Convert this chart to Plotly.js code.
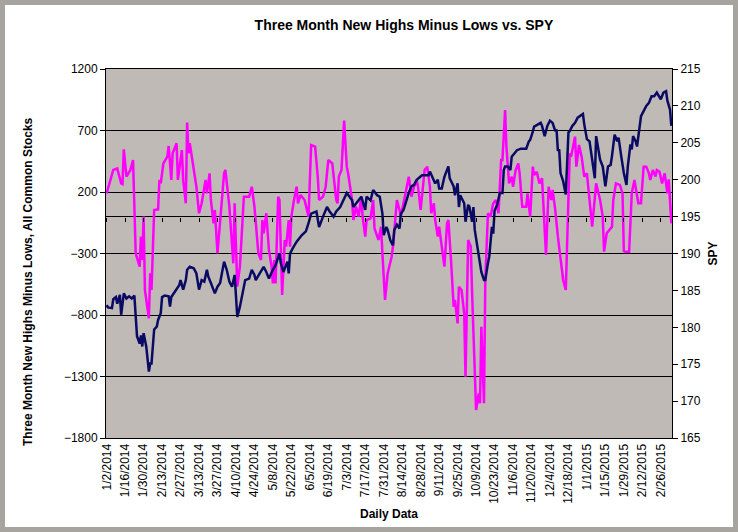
<!DOCTYPE html>
<html>
<head>
<meta charset="utf-8">
<script src="https://cdn.plot.ly/plotly-3.0.1.min.js"></script>
<style>
  body { margin: 0; background: #fff; }
  #frame { width: 728px; height: 522px; border: 5px solid #a7a39f; background: #fff; }
</style>
</head>
<body>
<div id="frame"><div id="chart"></div></div>
<script>
// Three month new highs minus lows (left axis)
let hlDates = [
  '2014-01-02','2014-01-07','2014-01-10','2014-01-13','2014-01-14','2014-01-15','2014-01-17','2014-01-20','2014-01-22','2014-01-24',
  '2014-01-27','2014-01-28','2014-01-29','2014-01-30','2014-01-31','2014-02-03','2014-02-04','2014-02-05','2014-02-07','2014-02-10',
  '2014-02-11','2014-02-12','2014-02-14','2014-02-17','2014-02-18','2014-02-20','2014-02-21','2014-02-24','2014-02-25','2014-02-26',
  '2014-02-28','2014-03-01','2014-03-03','2014-03-04','2014-03-05','2014-03-06','2014-03-08','2014-03-11','2014-03-13','2014-03-15',
  '2014-03-18','2014-03-19','2014-03-21','2014-03-22','2014-03-24','2014-03-25','2014-03-27','2014-03-30','2014-04-01','2014-04-02',
  '2014-04-05','2014-04-08','2014-04-09','2014-04-11','2014-04-13','2014-04-16','2014-04-20','2014-04-22','2014-04-24','2014-04-27',
  '2014-04-29','2014-04-30','2014-05-01','2014-05-03','2014-05-05','2014-05-07','2014-05-08','2014-05-09','2014-05-10','2014-05-12',
  '2014-05-13','2014-05-15','2014-05-17','2014-05-18','2014-05-20','2014-05-21','2014-05-22','2014-05-24','2014-05-26','2014-05-27',
  '2014-05-29','2014-06-01','2014-06-04','2014-06-06','2014-06-09','2014-06-11','2014-06-12','2014-06-15','2014-06-17','2014-06-19',
  '2014-06-22','2014-06-25','2014-06-26','2014-06-27','2014-06-29','2014-07-01','2014-07-03','2014-07-04','2014-07-07','2014-07-08',
  '2014-07-10','2014-07-12','2014-07-14','2014-07-15','2014-07-17','2014-07-18','2014-07-21','2014-07-23','2014-07-24','2014-07-27',
  '2014-07-29','2014-07-30','2014-08-01','2014-08-03','2014-08-06','2014-08-07','2014-08-09','2014-08-10','2014-08-12','2014-08-13',
  '2014-08-15','2014-08-17','2014-08-19','2014-08-21','2014-08-23','2014-08-25','2014-08-26','2014-08-28','2014-08-30','2014-08-31',
  '2014-09-02','2014-09-04','2014-09-05','2014-09-07','2014-09-08','2014-09-10','2014-09-11','2014-09-13','2014-09-15','2014-09-17',
  '2014-09-18','2014-09-20','2014-09-22','2014-09-23','2014-09-25','2014-09-26','2014-09-28','2014-09-30','2014-10-01','2014-10-03',
  '2014-10-05','2014-10-06','2014-10-08','2014-10-09','2014-10-11','2014-10-12','2014-10-13','2014-10-15','2014-10-16','2014-10-18',
  '2014-10-20','2014-10-22','2014-10-24','2014-10-26','2014-10-28','2014-10-29','2014-10-31','2014-11-01','2014-11-03','2014-11-05',
  '2014-11-06','2014-11-08','2014-11-10','2014-11-11','2014-11-13','2014-11-16','2014-11-17','2014-11-19','2014-11-21','2014-11-22',
  '2014-11-24','2014-11-26','2014-11-28','2014-11-29','2014-12-01','2014-12-03','2014-12-05','2014-12-06','2014-12-08','2014-12-10',
  '2014-12-13','2014-12-14','2014-12-16','2014-12-19','2014-12-20','2014-12-23','2014-12-24','2014-12-26','2014-12-28','2014-12-30',
  '2015-01-01','2015-01-03','2015-01-05','2015-01-08','2015-01-11','2015-01-13','2015-01-14','2015-01-16','2015-01-20','2015-01-21',
  '2015-01-23','2015-01-26','2015-01-28','2015-01-29','2015-01-30','2015-02-02','2015-02-04','2015-02-06','2015-02-07','2015-02-09',
  '2015-02-11','2015-02-13','2015-02-15','2015-02-17','2015-02-18','2015-02-20','2015-02-22','2015-02-23','2015-02-25','2015-02-27',
  '2015-03-01','2015-03-03','2015-03-04','2015-03-06'
];
let hlValues = [
  189, 379, 392, 270, 265, 547, 325, 379, 460, -299,
  -407, -163, -353, 0, -597, -827, -461, -597, 54, 59,
  298, 270, 433, 487, 574, 298, 514, 596, 298, 379,
  541, 298, 108, 764, 514, 596, 460, 243, 27, 108,
  298, 189, 352, 135, -55, 54, -299, 135, 352, 379,
  81, -380, 108, -570, -407, 162, 162, 243, 81, -299,
  -353, -28, -136, 27, -272, -407, -543, -353, -543, 162,
  135, -637, -190, -244, -28, -244, 0, 135, 243, 108,
  176, 135, 0, 582, 569, 325, 135, 162, 243, 460,
  433, 135, 108, 325, 379, 780, 406, 352, 135, -28,
  81, 0, 162, 0, -163, -28, -14, 135, -95, -190,
  -82, -299, -678, -461, -326, -244, 27, 135, 54, 0,
  108, 216, 325, 162, 243, 298, 243, 54, 298, 379,
  406, 243, 27, 108, -28, -163, -82, -244, -407, -55,
  -28, -353, -732, -678, -868, -570, -597, -786, -1301, -190,
  -244, -624, -1193, -1572, -1437, -1518, -895, -1518, -515, 27,
  0, 108, 135, 27, 460, 460, 867, 569, 270, 325,
  243, 379, 433, 352, 81, 81, 189, 0, 406, 338,
  365, 270, 311, 108, -312, 243, 135, 216, 54, -163,
  -461, -515, -597, 514, 487, 650, 406, 582, 487, 325,
  352, 135, -82, 270, 135, 0, -285, -136, -82, 135,
  270, 257, 189, -280, -285, -285, 189, 298, 243, 108,
  108, 406, 406, 352, 298, 379, 325, 379, 365, 270,
  352, 189, 302, -55
];

// SPY close (right axis)
let spyDates = [
  '2014-01-02','2014-01-03','2014-01-06','2014-01-07','2014-01-09','2014-01-10','2014-01-12','2014-01-13','2014-01-15','2014-01-17',
  '2014-01-19','2014-01-21','2014-01-23','2014-01-25','2014-01-27','2014-01-28','2014-01-29','2014-01-30','2014-02-01','2014-02-02',
  '2014-02-03','2014-02-04','2014-02-05','2014-02-07','2014-02-09','2014-02-10','2014-02-12','2014-02-13','2014-02-15','2014-02-18',
  '2014-02-19','2014-02-20','2014-02-22','2014-02-24','2014-02-26','2014-02-27','2014-03-01','2014-03-03','2014-03-04','2014-03-06',
  '2014-03-09','2014-03-11','2014-03-13','2014-03-15','2014-03-17','2014-03-19','2014-03-20','2014-03-22','2014-03-25','2014-03-27',
  '2014-03-29','2014-04-01','2014-04-03','2014-04-05','2014-04-07','2014-04-09','2014-04-11','2014-04-13','2014-04-17','2014-04-20',
  '2014-04-22','2014-04-24','2014-04-25','2014-04-28','2014-05-01','2014-05-03','2014-05-05','2014-05-08','2014-05-10','2014-05-13',
  '2014-05-14','2014-05-16','2014-05-19','2014-05-20','2014-05-21','2014-05-23','2014-05-26','2014-05-30','2014-06-02','2014-06-04',
  '2014-06-06','2014-06-10','2014-06-12','2014-06-15','2014-06-18','2014-06-20','2014-06-23','2014-06-25','2014-06-28','2014-07-03',
  '2014-07-07','2014-07-08','2014-07-12','2014-07-14','2014-07-17','2014-07-18','2014-07-21','2014-07-23','2014-07-26','2014-07-28',
  '2014-07-30','2014-07-31','2014-08-02','2014-08-03','2014-08-05','2014-08-07','2014-08-08','2014-08-10','2014-08-12','2014-08-13',
  '2014-08-15','2014-08-17','2014-08-19','2014-08-21','2014-08-23','2014-08-25','2014-08-29','2014-08-31','2014-09-03','2014-09-04',
  '2014-09-06','2014-09-08','2014-09-10','2014-09-11','2014-09-13','2014-09-15','2014-09-18','2014-09-19','2014-09-22','2014-09-23',
  '2014-09-25','2014-09-26','2014-09-27','2014-09-28','2014-09-30','2014-10-01','2014-10-03','2014-10-04','2014-10-06','2014-10-07',
  '2014-10-08','2014-10-10','2014-10-11','2014-10-13','2014-10-15','2014-10-16','2014-10-18','2014-10-19','2014-10-21','2014-10-22',
  '2014-10-23','2014-10-25','2014-10-27','2014-10-29','2014-10-30','2014-10-31','2014-11-02','2014-11-04','2014-11-05','2014-11-07',
  '2014-11-09','2014-11-12','2014-11-16','2014-11-18','2014-11-19','2014-11-21','2014-11-22','2014-11-24','2014-11-27','2014-11-28',
  '2014-11-30','2014-12-02','2014-12-04','2014-12-06','2014-12-08','2014-12-09','2014-12-10','2014-12-11','2014-12-12','2014-12-14',
  '2014-12-16','2014-12-18','2014-12-19','2014-12-21','2014-12-23','2014-12-25','2014-12-27','2014-12-29','2014-12-30','2015-01-01',
  '2015-01-03','2015-01-05','2015-01-06','2015-01-07','2015-01-08','2015-01-10','2015-01-11','2015-01-13','2015-01-15','2015-01-17',
  '2015-01-19','2015-01-20','2015-01-22','2015-01-24','2015-01-25','2015-01-27','2015-01-28','2015-01-29','2015-01-31','2015-02-01',
  '2015-02-03','2015-02-04','2015-02-05','2015-02-07','2015-02-08','2015-02-10','2015-02-11','2015-02-13','2015-02-15','2015-02-17',
  '2015-02-19','2015-02-21','2015-02-23','2015-02-24','2015-02-26','2015-02-28','2015-03-02','2015-03-03','2015-03-05','2015-03-06'
];
let spyValues = [
  183.0, 182.7, 182.6, 183.8, 184.1, 183.2, 184.4, 181.7, 184.6, 183.9,
  184.2, 183.9, 184.3, 178.8, 177.8, 178.9, 177.4, 179.2, 177.4, 176.0,
  174.0, 175.1, 175.1, 179.7, 180.1, 181.0, 181.9, 184.1, 184.3, 184.2,
  182.8, 184.1, 184.6, 185.1, 185.7, 186.4, 185.1, 186.4, 187.8, 188.2,
  188.0, 187.3, 185.1, 186.4, 186.2, 187.8, 186.9, 186.0, 184.6, 185.5,
  186.0, 188.9, 187.8, 186.2, 185.5, 187.1, 181.4, 182.8, 186.4, 186.6,
  187.8, 187.1, 186.4, 187.3, 188.2, 187.5, 186.6, 187.8, 188.4, 190.0,
  188.7, 187.5, 188.9, 187.3, 190.0, 190.7, 191.6, 192.5, 193.0, 194.1,
  195.4, 195.7, 193.6, 195.0, 196.3, 195.7, 195.0, 195.7, 196.3, 198.2,
  197.2, 196.3, 197.2, 197.7, 195.9, 197.7, 197.2, 198.6, 197.9, 197.7,
  195.4, 192.5, 193.6, 193.2, 191.8, 191.1, 193.2, 193.9, 193.4, 195.4,
  195.9, 197.2, 198.2, 199.1, 199.3, 200.0, 200.6, 200.6, 200.6, 201.1,
  200.4, 199.5, 200.0, 198.8, 198.8, 200.4, 201.8, 200.2, 199.1, 197.9,
  199.5, 196.3, 197.9, 197.5, 196.8, 194.3, 196.6, 196.3, 194.3, 196.3,
  193.2, 190.9, 189.6, 187.5, 186.4, 186.4, 188.7, 189.6, 193.6, 192.7,
  195.8, 196.6, 198.2, 198.2, 201.3, 201.8, 201.8, 201.3, 203.1, 203.6,
  204.0, 204.2, 204.2, 205.2, 205.4, 206.5, 207.2, 207.4, 207.7, 207.3,
  205.9, 207.3, 208.0, 207.7, 206.6, 206.8, 203.9, 204.1, 200.9, 199.8,
  198.0, 206.4, 206.6, 207.3, 207.7, 208.4, 208.6, 208.9, 207.5, 205.5,
  205.2, 202.5, 201.6, 200.2, 205.9, 203.9, 202.7, 201.8, 199.1, 201.8,
  202.0, 203.2, 206.1, 205.2, 205.7, 203.2, 201.8, 200.9, 199.3, 201.8,
  204.8, 204.1, 205.9, 205.2, 204.5, 206.8, 208.6, 209.3, 210.0, 210.4,
  211.3, 211.3, 211.8, 211.5, 210.9, 211.8, 212.0, 210.7, 209.5, 207.3
];

let xRange = ['2014-01-01 12:00', '2015-03-06 12:00'];
let twoWeeks = 14 * 24 * 3600 * 1000;
let boldFont = {size: 12, weight: 'bold', color: '#000'};

let highsLows = {
    x: hlDates,
    y: hlValues,
    type: 'scatter',
    mode: 'lines',
    line: {color: '#ff00ff', width: 2.5},
    xaxis: 'x',
    yaxis: 'y'
};

let spy = {
    x: spyDates,
    y: spyValues,
    type: 'scatter',
    mode: 'lines',
    line: {color: '#0a0a64', width: 2.5},
    xaxis: 'x2',
    yaxis: 'y2'
};

let layout = {
    width: 728,
    height: 522,
    margin: {l: 101, r: 61, t: 64, b: 89},
    paper_bgcolor: '#ffffff',
    plot_bgcolor: '#bfbab6',
    font: {family: '"Liberation Sans", Arial, sans-serif', size: 12, color: '#000'},
    showlegend: false,
    title: {
        text: 'Three Month New Highs Minus Lows vs. SPY',
        font: {size: 14, weight: 'bold', color: '#000'},
        xref: 'container', x: 0.548, xanchor: 'center',
        yref: 'container', y: 0.962, yanchor: 'middle'
    },
    xaxis: {
        type: 'date',
        range: xRange,
        tick0: '2014-01-02',
        dtick: twoWeeks,
        tickformat: '%-m/%-d/%Y',
        tickangle: -90,
        ticks: '',
        showgrid: false,
        zeroline: false,
        showline: true,
        linecolor: '#000',
        mirror: true,
        title: {text: 'Daily Data', font: boldFont, standoff: 6}
    },
    // tick marks sitting on the zero line, as Excel draws them
    xaxis2: {
        type: 'date',
        overlaying: 'x',
        anchor: 'free',
        position: 0.6,
        range: xRange,
        tick0: '2014-01-02',
        dtick: twoWeeks,
        ticks: 'outside',
        ticklen: 4,
        tickcolor: '#000',
        showticklabels: false,
        showgrid: false,
        zeroline: false,
        showline: false
    },
    yaxis: {
        range: [-1800, 1200],
        tick0: -1800,
        dtick: 500,
        ticks: 'outside',
        ticklen: 5,
        tickcolor: '#000',
        showgrid: true,
        gridcolor: '#000',
        gridwidth: 1,
        zeroline: true,
        zerolinecolor: '#000',
        zerolinewidth: 1,
        showline: true,
        linecolor: '#000'
    },
    yaxis2: {
        overlaying: 'y',
        anchor: 'x2',
        side: 'right',
        range: [165, 215],
        tick0: 165,
        dtick: 5,
        ticks: 'outside',
        ticklen: 5,
        tickcolor: '#000',
        showgrid: false,
        zeroline: false,
        showline: true,
        linecolor: '#000',
        title: {text: 'SPY', font: boldFont, standoff: 8}
    },
    annotations: [{
        text: 'Three Month New Highs Minus Lows, All Common Stocks',
        xref: 'paper', yref: 'paper',
        x: -0.1378, y: 0.4228,
        xanchor: 'center', yanchor: 'middle',
        textangle: -90,
        showarrow: false,
        font: boldFont
    }]
};

Plotly.newPlot('chart', [highsLows, spy], layout, {displayModeBar: false, staticPlot: true});
</script>
</body>
</html>
